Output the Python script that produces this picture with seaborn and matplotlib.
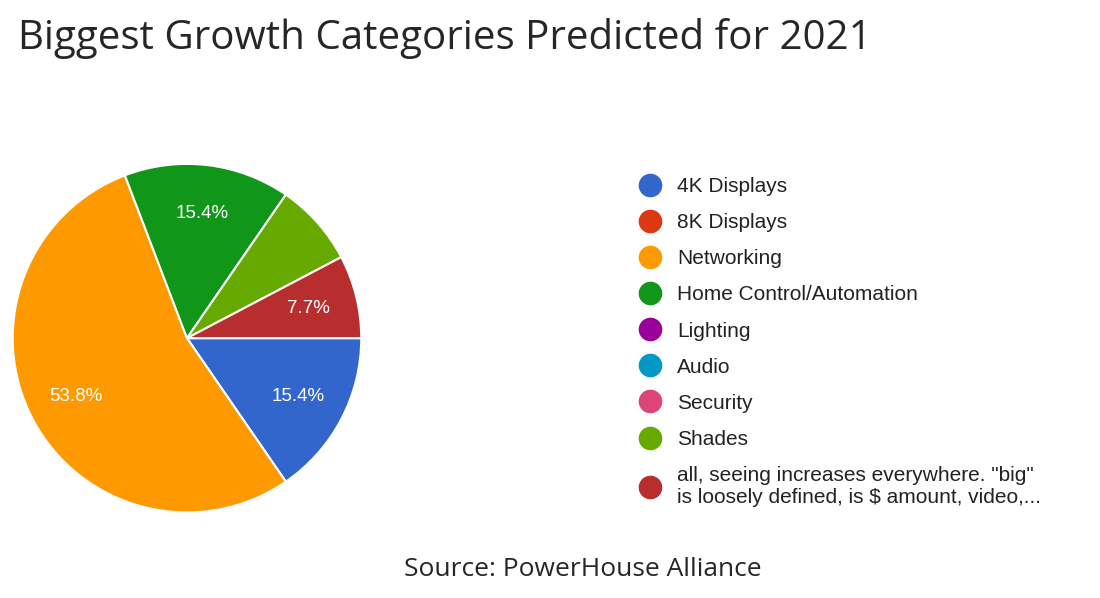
import matplotlib
matplotlib.use("Agg")
import matplotlib.pyplot as plt
from matplotlib.lines import Line2D
import seaborn as sns

sns.set_style("white")

# legend categories (all), and pie slices drawn clockwise from 3 o'clock
categories = ["4K Displays", "8K Displays", "Networking", "Home Control/Automation",
              "Lighting", "Audio", "Security", "Shades",
              "all, seeing increases everywhere. \"big\"\nis loosely defined, is $ amount, video,..."]
legend_colors = ["#3366cc", "#dc3912", "#ff9900", "#109618", "#990099",
                 "#0099c6", "#dd4477", "#66aa00", "#b82e2e"]
slice_names = ["4K Displays", "Networking", "Home Control/Automation", "Shades", categories[-1]]
slice_values = [15.4, 53.8, 15.4, 7.7, 7.7]
slice_labels = ["15.4%", "53.8%", "15.4%", "", "7.7%"]

color_map = dict(zip(categories, legend_colors))
slice_colors = [color_map[n] for n in slice_names]

fig = plt.figure(figsize=(11, 5.98), dpi=100)
ax = fig.add_axes([0.01, 0.14, 0.32, 0.589])
wedges, texts = ax.pie(slice_values, colors=slice_colors, startangle=0, counterclock=False,
                       labels=slice_labels, labeldistance=0.72,
                       wedgeprops=dict(edgecolor="white", linewidth=1.5),
                       textprops=dict(color="white", fontsize=13.5, family="Liberation Sans"))
for t in texts:
    t.set_ha("center")
    t.set_va("center")
ax.set_xlim(-1.01, 1.01)
ax.set_ylim(-1.01, 1.01)
ax.set_aspect("equal")

fig.text(0.016, 0.935, "Biggest Growth Categories Predicted for 2021",
         fontsize=29, family="Open Sans", va="center", ha="left")
fig.text(0.53, 0.048, "Source: PowerHouse Alliance", fontsize=19,
         family="Open Sans", va="center", ha="center")

handles = [Line2D([], [], marker="o", linestyle="none", markersize=16,
                  markerfacecolor=c, markeredgecolor=c) for c in legend_colors]
leg = fig.legend(handles, categories, loc="upper left", bbox_to_anchor=(0.555, 0.735),
                 frameon=False, handletextpad=0.3, labelspacing=0.82,
                 prop=dict(family="Liberation Sans", size=15))
for t in leg.get_texts():
    t.set_color("#222222")

fig.savefig("out.png", dpi=100)
